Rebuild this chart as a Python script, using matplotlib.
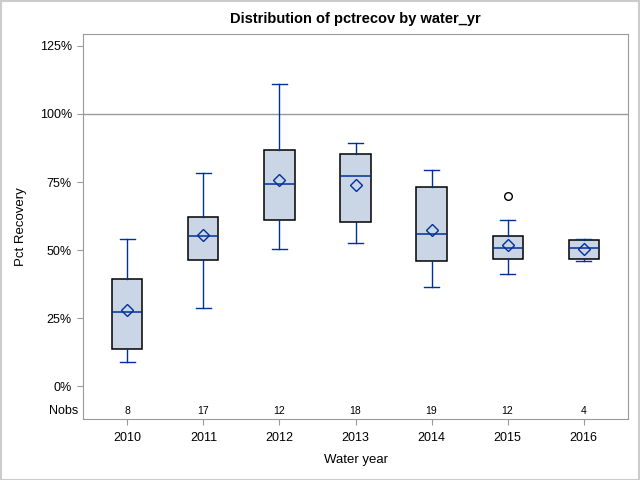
import matplotlib
matplotlib.use('Agg')
from matplotlib import pyplot as plt
from matplotlib.patches import Rectangle
from matplotlib.ticker import FuncFormatter

plt.rcParams['font.family'] = ['Liberation Sans', 'DejaVu Sans']

# Data (percent recovery per water year)
years = ['2010', '2011', '2012', '2013', '2014', '2015', '2016']
nobs = [8, 17, 12, 18, 19, 12, 4]
whis_lo = [8.7, 28.6, 50.3, 52.5, 36.3, 41.1, 45.8]
q1 = [13.5, 46.2, 60.9, 60.2, 45.8, 46.8, 46.8]
median = [27.1, 55.1, 74.1, 77.1, 55.8, 50.6, 50.6]
mean = [27.9, 55.4, 75.7, 73.8, 57.4, 51.8, 50.4]
q3 = [39.2, 62.0, 86.6, 85.4, 73.1, 55.0, 53.6]
whis_hi = [54.2, 78.4, 111.1, 89.2, 79.3, 60.9, 54.2]
outliers = [[], [], [], [], [], [69.7], []]

BLUE = '#00309a'
FILL = '#cad5e6'
GRAY = '#9a9a9a'

stats = []
for i, yr in enumerate(years):
    stats.append({'label': yr, 'whislo': whis_lo[i], 'q1': q1[i], 'med': median[i],
                  'mean': mean[i], 'q3': q3[i], 'whishi': whis_hi[i], 'fliers': outliers[i]})

fig = plt.figure(figsize=(6.4, 4.8), dpi=100)
ax = fig.add_axes([83 / 640, 1 - 419 / 480, 545 / 640, 385 / 480])

# Reference line at 100%
ax.axhline(100, color=GRAY, lw=1, zorder=1)

ax.bxp(stats, positions=range(len(years)), widths=0.395, showmeans=True, patch_artist=True,
       boxprops=dict(facecolor=FILL, edgecolor='black', linewidth=1.1),
       medianprops=dict(color=BLUE, linewidth=1.1),
       whiskerprops=dict(color=BLUE, linewidth=1.0),
       capprops=dict(color=BLUE, linewidth=1.0),
       capwidths=0.195,
       meanprops=dict(marker='D', markerfacecolor='none', markeredgecolor=BLUE,
                      markersize=6.5, markeredgewidth=1.0),
       flierprops=dict(marker='o', markerfacecolor='none', markeredgecolor='black',
                       markersize=5.5, markeredgewidth=1.0))

ax.set_xlim(-0.585, 6.585)
ax.set_ylim(-12.1, 129.4)
ax.set_yticks([0, 25, 50, 75, 100, 125])
ax.yaxis.set_major_formatter(FuncFormatter(lambda v, p: '{:.0f}%'.format(v)))

# Nobs row inside the plot area
for i, n in enumerate(nobs):
    ax.text(i, -9.3, str(n), ha='center', va='center', fontsize=7.5)
ax.text(-0.008, -9.3, 'Nobs', transform=ax.get_yaxis_transform(), ha='right', va='center', fontsize=9)

for s in ax.spines.values():
    s.set_color(GRAY)
ax.tick_params(colors=GRAY, labelcolor='black', labelsize=9, length=4.5)
ax.tick_params(axis='x', pad=5)

ax.set_xlabel('Water year', fontsize=9.5, labelpad=7)
ax.set_ylabel('Pct Recovery', fontsize=9.5, labelpad=9)
ax.set_title('Distribution of pctrecov by water_yr', fontsize=10.5, fontweight='bold', pad=8)

# Light frame around the whole picture
fig.patches.append(Rectangle((0.001, 0.001), 0.997, 0.997, transform=fig.transFigure,
                             fill=False, edgecolor='#cccccc', linewidth=1.5))

fig.savefig('out.png', dpi=100)
